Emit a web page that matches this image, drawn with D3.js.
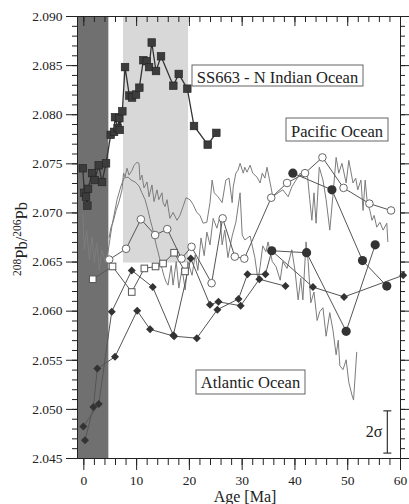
<!DOCTYPE html>
<html>
<head>
<meta charset="utf-8">
<script src="https://cdn.jsdelivr.net/npm/d3@7/dist/d3.min.js"></script>
<style>
  body { margin: 0; background: #fff; }
  text { font-family: "Liberation Serif", "DejaVu Serif", serif; fill: #222; }
</style>
</head>
<body>
<div id="graphic"></div>
<script>
// ---- data: [age (Ma), 208Pb/206Pb] ----
var indianOcean = [[-0.1,2.0745],[0.19,2.0720],[0.51,2.0716],[0.76,2.0707],[0.89,2.0724],[1.65,2.0740],
  [2.16,2.0733],[2.92,2.0748],[3.54,2.0731],[4.3,2.0750],[5.19,2.0779],[5.82,2.0782],[6.0,2.0797],
  [6.5,2.0786],[6.82,2.0796],[6.9,2.0784],[7.39,2.0803],[7.9,2.0848],[8.72,2.0819],[9.23,2.0817],
  [9.98,2.0820],[10.61,2.0827],[11.37,2.0855],[12.01,2.0854],[12.45,2.0848],[12.96,2.0873],
  [13.77,2.0844],[14.72,2.0859],[17.05,2.0829],[18.08,2.0841],[19.7,2.0826],[20.97,2.0788],
  [23.57,2.0769],[25.2,2.0781]];

// high resolution crust records (thin lines, no markers)
var pacificRecord = [[4.87,2.0674],[5.25,2.0685],[5.63,2.0690],[6.2,2.0702],[6.76,2.0711],[7.33,2.0723],
  [7.62,2.0740],[7.9,2.0736],[8.28,2.0745],[8.66,2.0738],[9.23,2.0743],[9.6,2.0748],[10.17,2.0751],
  [10.55,2.0750],[10.74,2.0733],[11.1,2.0738],[11.5,2.0725],[12.07,2.0731],[12.45,2.0716],[13.0,2.0728],
  [13.4,2.0711],[13.96,2.0723],[14.3,2.0713],[14.9,2.0720],[15.1,2.0710],[15.48,2.0706],[15.86,2.0713],
  [16.4,2.0694],[17.0,2.0700],[17.75,2.0692],[18.3,2.0697],[18.9,2.0706],[19.46,2.0715],[20.2,2.0713],
  [20.8,2.0708],[21.5,2.0700],[22.1,2.0697],[22.7,2.0689],[23.4,2.0690],[24.0,2.0710],[24.4,2.0733],
  [24.8,2.0720],[25.5,2.0716],[26.3,2.0710],[27.0,2.0733],[27.6,2.0735],[28.2,2.0710],[28.4,2.0726],
  [28.9,2.0740],[29.3,2.0743],[29.7,2.0750],[30.3,2.0740],[30.6,2.0746],[31.0,2.0741],[31.6,2.0748],
  [32.1,2.0740],[32.9,2.0736],[33.5,2.0730],[33.9,2.0740],[34.4,2.0735],[34.8,2.0746],[35.4,2.0730],
  [35.9,2.0716],[36.9,2.0720],[37.8,2.0723],[38.8,2.0716],[39.5,2.0726],[40.3,2.0733],[41.1,2.0740],
  [41.6,2.0735],[42.4,2.0741],[42.9,2.0713],[43.3,2.0692],[43.7,2.0720],[44.1,2.0689],[44.7,2.0746],
  [45.4,2.0733],[46.0,2.0713],[46.7,2.0682],[47.3,2.0718],[47.9,2.0756],[48.4,2.0740],[49.0,2.0750],
  [49.8,2.0730],[50.3,2.0753],[51.1,2.0730],[51.6,2.0735],[52.0,2.0723],[52.6,2.0733],[53.0,2.0702],
  [53.4,2.0733],[53.8,2.0710],[54.3,2.0702],[54.7,2.0692],[55.1,2.0697],[55.6,2.0685],[56.2,2.0690],
  [56.8,2.0682],[57.5,2.0689],[57.7,2.0670]];

var atlanticRecord = [[-0.1,2.0699],[0.19,2.0662],[0.64,2.0682],[1.14,2.0652],[1.65,2.0675],[2.08,2.0649],
  [2.54,2.0669],[3.03,2.0641],[3.54,2.0662],[4.17,2.0649],[4.68,2.0660],[5.44,2.0687],[6.39,2.0713],
  [7.14,2.0727],[7.71,2.0735],[8.47,2.0736],[9.04,2.0733],[9.8,2.0731],[10.55,2.0727],[11.1,2.0720],
  [11.7,2.0713],[12.26,2.0702],[12.6,2.0694],[13.0,2.0686],[13.4,2.0677],[13.8,2.0667],[14.15,2.0660],
  [14.5,2.0652],[14.9,2.0643],[15.3,2.0635],[15.7,2.0629],[16.05,2.0626],[16.65,2.0646],[17.0,2.0626],
  [17.6,2.0650],[18.1,2.0623],[18.7,2.0643],[19.3,2.0621],[19.8,2.0650],[20.6,2.0636],[21.2,2.0657],
  [21.7,2.0641],[22.3,2.0674],[22.9,2.0656],[23.4,2.0680],[24.0,2.0667],[24.6,2.0694],[25.3,2.0684],
  [25.9,2.0696],[26.3,2.0667],[26.8,2.0682],[27.4,2.0654],[28.2,2.0676],[28.9,2.0690],[29.7,2.0720],
  [30.1,2.0677],[30.6,2.0672],[31.6,2.0676],[32.5,2.0654],[33.1,2.0631],[33.5,2.0645],[34.0,2.0666],
  [34.6,2.0660],[35.0,2.0670],[35.8,2.0650],[36.5,2.0645],[37.3,2.0631],[37.8,2.0650],[38.6,2.0643],
  [39.5,2.0662],[40.1,2.0641],[40.7,2.0611],[41.2,2.0633],[41.6,2.0611],[42.2,2.0670],[42.6,2.0650],
  [43.1,2.0608],[43.7,2.0619],[44.3,2.0590],[44.8,2.0599],[45.4,2.0603],[46.0,2.0574],[46.7,2.0598],
  [47.3,2.0580],[47.9,2.0555],[48.3,2.0570],[48.6,2.0544],[49.2,2.0540],[49.8,2.0550],[50.3,2.0527],
  [50.9,2.0514],[51.2,2.0509],[51.8,2.0558]];

// discrete series
var openCircles = [[4.9,2.0652],[8.1,2.0663],[10.9,2.0693],[13.6,2.0677],[15.9,2.0683],
  [18.6,2.0653],[20.5,2.0665],[24.3,2.0628],[26.4,2.0694],[28.7,2.0655],[30.5,2.0653],[35.6,2.0715],
  [38.6,2.0730],[42.0,2.0740],[45.3,2.0756],[49.3,2.0725],[54.2,2.0709],[58.3,2.0702]];

var openSquares = [[1.78,2.0632],[5.53,2.0645],[9.17,2.0619],[11.56,2.0643],[13.68,2.0645],
  [15.1,2.0648],[17.2,2.0659],[19.27,2.0640]];

var diamondsA = [[0.0,2.0482],[2.92,2.0505],[5.38,2.0599],[9.17,2.0641],[13.15,2.0624],[17.05,2.0575],
  [20.35,2.0653],[24.0,2.0606],[25.6,2.0609],[29.8,2.0605],[33.35,2.0632],[38.3,2.0625]];

var diamondsB = [[0.32,2.0468],[1.9,2.0502],[2.65,2.0541],[6.0,2.0553],[10.2,2.0600],[12.64,2.0581],
  [17.2,2.0574],[21.5,2.0572],[25.4,2.0601],[29.4,2.0612],[31.1,2.0637],[34.5,2.0637],[35.7,2.0661],
  [43.5,2.0624],[49.4,2.0614],[60.6,2.0636]];

var dotsA = [[39.7,2.0740],[47.1,2.0723],[52.9,2.0651],[57.5,2.0625]];
var dotsB = [[35.7,2.0661],[42.3,2.0659],[49.8,2.0579],[55.3,2.0667]];

// shaded age windows and 2 sigma bar
var darkBand = [-1.2, 4.74];
var lightBand = [7.52, 19.84, 2.0649];
var errorBar = [57.6, 2.0455, 2.0498];

var xMajor = [0, 10, 20, 30, 40, 50, 60];
var xMinor = d3.range(0, 61, 2);
var yMajor = [2.045, 2.050, 2.055, 2.060, 2.065, 2.070, 2.075, 2.080, 2.085, 2.090];
var yMinor = d3.range(2045, 2091, 1).map(function(d) { return d / 1000; });

var svgWidth = 409;
var svgHeight = 504;

var svg = d3.select("#graphic")
  .append("svg")
  .attr("width", svgWidth)
  .attr("height", svgHeight);

var x = d3.scaleLinear().domain([-1.2, 60]).range([77, 400]);
var y = d3.scaleLinear().domain([2.045, 2.090]).range([458, 16]);

// shaded bands
svg.append("rect")
  .attr("x", x(darkBand[0])).attr("y", y(2.090))
  .attr("width", x(darkBand[1]) - x(darkBand[0]))
  .attr("height", y(2.045) - y(2.090))
  .attr("fill", "#707070");

svg.append("rect")
  .attr("x", x(lightBand[0])).attr("y", y(2.090))
  .attr("width", x(lightBand[1]) - x(lightBand[0]))
  .attr("height", y(lightBand[2]) - y(2.090))
  .attr("fill", "#d8d8d8");

var line = d3.line()
  .x(function(d) { return x(d[0]); })
  .y(function(d) { return y(d[1]); });

// thin records
[pacificRecord, atlanticRecord].forEach(function(series) {
  svg.append("path").datum(series)
    .attr("d", line).attr("fill", "none")
    .attr("stroke", "#7c7c7c").attr("stroke-width", 1);
});

// connecting lines of discrete series
[openCircles, openSquares, diamondsA, diamondsB, dotsA, dotsB].forEach(function(series) {
  svg.append("path").datum(series)
    .attr("d", line).attr("fill", "none")
    .attr("stroke", "#555").attr("stroke-width", 1);
});

svg.append("path").datum(indianOcean)
  .attr("d", line).attr("fill", "none")
  .attr("stroke", "#333").attr("stroke-width", 1.3);

// markers
svg.selectAll(".ocircle").data(openCircles).enter()
  .append("circle")
  .attr("cx", function(d) { return x(d[0]); })
  .attr("cy", function(d) { return y(d[1]); })
  .attr("r", 3.8)
  .attr("fill", "#fff").attr("stroke", "#666");

svg.selectAll(".osquare").data(openSquares).enter()
  .append("rect")
  .attr("x", function(d) { return x(d[0]) - 3.3; })
  .attr("y", function(d) { return y(d[1]) - 3.3; })
  .attr("width", 6.6).attr("height", 6.6)
  .attr("fill", "#fff").attr("stroke", "#555");

// small rotated squares for the Atlantic series
svg.selectAll(".diamond").data(diamondsA.concat(diamondsB)).enter()
  .append("path")
  .attr("d", "M0,-4L4,0L0,4L-4,0Z")
  .attr("transform", function(d) { return "translate(" + x(d[0]) + "," + y(d[1]) + ")"; })
  .attr("fill", "#333");

svg.selectAll(".dot").data(dotsA.concat(dotsB)).enter()
  .append("circle")
  .attr("cx", function(d) { return x(d[0]); })
  .attr("cy", function(d) { return y(d[1]); })
  .attr("r", 4.6)
  .attr("fill", "#333");

svg.selectAll(".isquare").data(indianOcean).enter()
  .append("rect")
  .attr("x", function(d) { return x(d[0]) - 3.8; })
  .attr("y", function(d) { return y(d[1]) - 3.8; })
  .attr("width", 7.6).attr("height", 7.6)
  .attr("fill", "#3c3c3c").attr("stroke", "#222").attr("stroke-width", 0.6);

// axes
function styleAxis(g) {
  g.selectAll("path.domain").attr("stroke", "#222");
  g.selectAll("line").attr("stroke", "#222");
  g.selectAll("text").attr("fill", "#222")
    .style("font-family", "'Liberation Serif', serif").style("font-size", "13.5px");
}

svg.append("g").attr("transform", "translate(77,0)")
  .call(d3.axisLeft(y).tickValues(yMinor).tickSize(5).tickSizeOuter(0).tickFormat(""))
  .call(styleAxis);
svg.append("g").attr("transform", "translate(77,0)")
  .call(d3.axisLeft(y).tickValues(yMajor).tickSize(11).tickSizeOuter(0).tickPadding(3.5)
    .tickFormat(d3.format(".3f")))
  .call(styleAxis);

svg.append("g").attr("transform", "translate(400,0)")
  .call(d3.axisRight(y).tickValues(yMinor).tickSize(5).tickSizeOuter(0).tickFormat(""))
  .call(styleAxis);
svg.append("g").attr("transform", "translate(400,0)")
  .call(d3.axisRight(y).tickValues(yMajor).tickSize(10).tickSizeOuter(0).tickFormat(""))
  .call(styleAxis);

svg.append("g").attr("transform", "translate(0,458)")
  .call(d3.axisBottom(x).tickValues(xMinor).tickSize(7).tickSizeOuter(0).tickFormat(""))
  .call(styleAxis);
svg.append("g").attr("transform", "translate(0,458)")
  .call(d3.axisBottom(x).tickValues(xMajor).tickSize(12).tickSizeOuter(0).tickPadding(5))
  .call(styleAxis);

svg.append("g").attr("transform", "translate(0,16)")
  .call(d3.axisTop(x).tickValues(xMinor).tickSize(-6).tickSizeOuter(0).tickFormat(""))
  .call(styleAxis);
svg.append("g").attr("transform", "translate(0,16)")
  .call(d3.axisTop(x).tickValues(xMajor).tickSize(-10).tickSizeOuter(0).tickFormat(""))
  .call(styleAxis);

// axis titles
svg.append("text")
  .attr("x", 245).attr("y", 502)
  .attr("text-anchor", "middle")
  .style("font-size", "16px")
  .text("Age [Ma]");

var yTitle = svg.append("text")
  .attr("transform", "translate(27,239) rotate(-90)")
  .attr("text-anchor", "middle")
  .style("font-size", "16.5px");
yTitle.append("tspan").attr("dy", -6).style("font-size", "11.5px").text("208");
yTitle.append("tspan").attr("dy", 6).text("Pb/");
yTitle.append("tspan").attr("dy", -6).style("font-size", "11.5px").text("206");
yTitle.append("tspan").attr("dy", 6).text("Pb");

// boxed labels
var labels = [
  { text: "SS663 - N Indian Ocean", box: [192, 65, 171, 21], base: 82.5 },
  { text: "Pacific Ocean", box: [286, 118, 102, 23], base: 136.5 },
  { text: "Atlantic Ocean", box: [196, 370, 109, 24], base: 388 }
];
labels.forEach(function(l) {
  svg.append("rect")
    .attr("x", l.box[0]).attr("y", l.box[1])
    .attr("width", l.box[2]).attr("height", l.box[3])
    .attr("fill", "#fff").attr("stroke", "#555").attr("stroke-width", 0.9);
  svg.append("text")
    .attr("x", l.box[0] + l.box[2] / 2).attr("y", l.base)
    .attr("text-anchor", "middle")
    .style("font-size", "16.5px")
    .text(l.text);
});

// 2 sigma error bar
var ex = x(errorBar[0]);
svg.append("line")
  .attr("x1", ex).attr("x2", ex)
  .attr("y1", y(errorBar[1])).attr("y2", y(errorBar[2]))
  .attr("stroke", "#333").attr("stroke-width", 1.2);
[errorBar[1], errorBar[2]].forEach(function(v) {
  svg.append("line")
    .attr("x1", ex - 4).attr("x2", ex + 4)
    .attr("y1", y(v)).attr("y2", y(v))
    .attr("stroke", "#333").attr("stroke-width", 1.2);
});
svg.append("text")
  .attr("x", ex - 5).attr("y", y((errorBar[1] + errorBar[2]) / 2) + 5)
  .attr("text-anchor", "end")
  .style("font-size", "16px")
  .text("2σ");
</script>
</body>
</html>
